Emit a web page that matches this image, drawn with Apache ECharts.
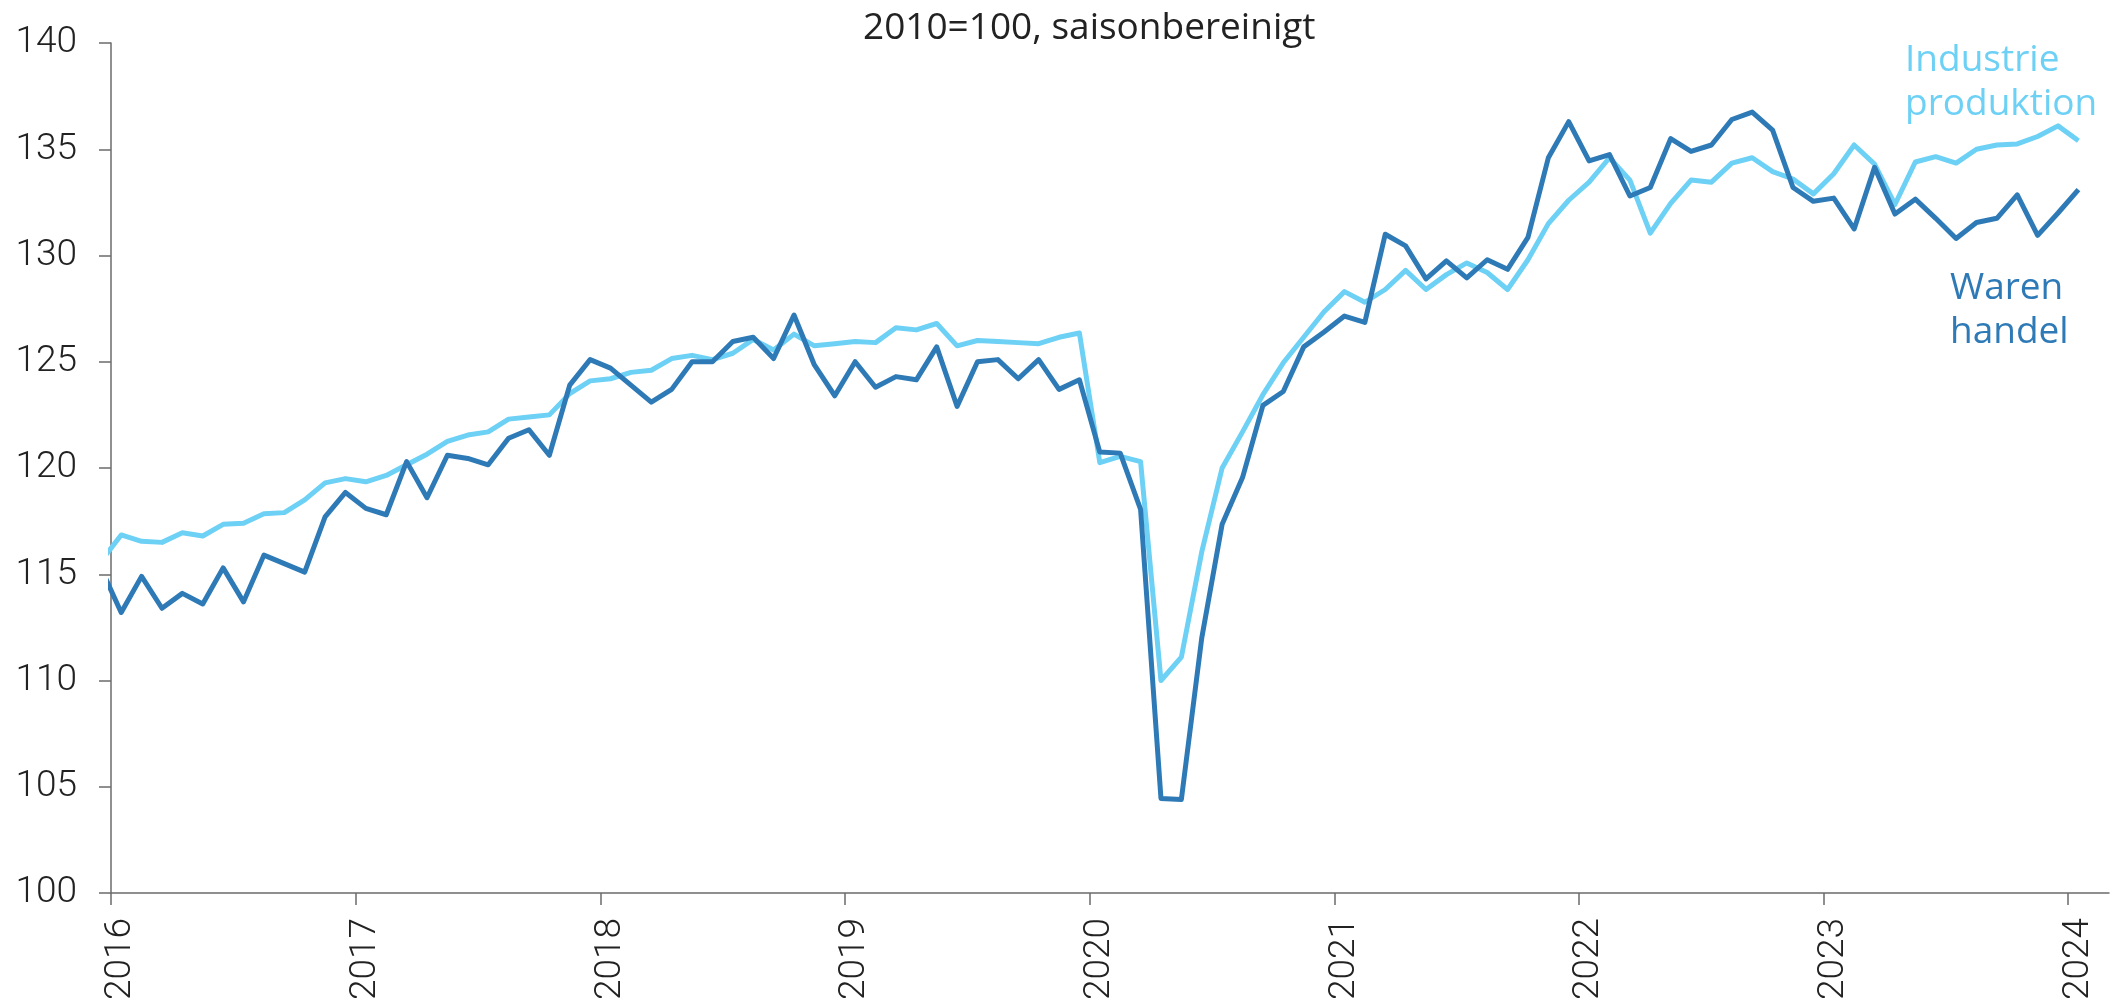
<!DOCTYPE html>
<html>
<head>
<meta charset="utf-8">
<script src="https://cdn.jsdelivr.net/npm/echarts@6/dist/echarts.min.js"></script>
<style>
  html, body { margin: 0; padding: 0; background: #fff; }
  #chart { width: 2121px; height: 1006px; }
</style>
</head>
<body>
<div id="chart"></div>
<script>
// Monatswerte Dez 2015 .. Jan 2024 (Dez 2015 liegt links außerhalb und wird abgeschnitten)
const yearLabels = ['2016', '2017', '2018', '2019', '2020', '2021', '2022', '2023', '2024'];
const monthNames = ['Jan', 'Feb', 'Mär', 'Apr', 'Mai', 'Jun', 'Jul', 'Aug', 'Sep', 'Okt', 'Nov', 'Dez'];
const months = ['Dez 2015'];
yearLabels.forEach(function (y) {
  monthNames.forEach(function (m) {
    if (months.length < 98) months.push(m + ' ' + y);
  });
});

const warenhandel = [
  115.3,
  113.2, 114.9, 113.4, 114.1, 113.6, 115.3, 113.7, 115.9, 115.5, 115.1, 117.7, 118.85,
  118.1, 117.8, 120.3, 118.6, 120.6, 120.45, 120.15, 121.4, 121.8, 120.6, 123.9, 125.1,
  124.7, 123.9, 123.1, 123.7, 125.0, 125.0, 125.95, 126.15, 125.15, 127.2, 124.85, 123.4,
  125.0, 123.8, 124.3, 124.15, 125.7, 122.9, 125.0, 125.1, 124.2, 125.1, 123.7, 124.15,
  120.75, 120.7, 118.05, 104.45, 104.4, 112.0, 117.35, 119.55, 122.95, 123.6, 125.7, 126.4,
  127.15, 126.85, 131.0, 130.45, 128.9, 129.75, 128.95, 129.8, 129.35, 130.85, 134.6, 136.3,
  134.45, 134.75, 132.8, 133.2, 135.5, 134.9, 135.2, 136.4, 136.75, 135.9, 133.2, 132.55,
  132.7, 131.25, 134.15, 131.95, 132.65, 131.75, 130.8, 131.55, 131.75, 132.85, 130.95, 132.0,
  133.1
];

const industrieproduktion = [
  115.6,
  116.85, 116.55, 116.5, 116.95, 116.8, 117.35, 117.4, 117.85, 117.9, 118.5, 119.3, 119.5,
  119.35, 119.65, 120.15, 120.65, 121.25, 121.55, 121.7, 122.3, 122.4, 122.5, 123.5, 124.1,
  124.2, 124.5, 124.6, 125.15, 125.3, 125.1, 125.4, 126.05, 125.55, 126.3, 125.75, 125.85,
  125.95, 125.9, 126.6, 126.5, 126.8, 125.75, 126.0, 125.95, 125.9, 125.85, 126.15, 126.35,
  120.25, 120.55, 120.3, 110.0, 111.1, 116.05, 120.0, 121.7, 123.45, 124.95, 126.15, 127.35,
  128.3, 127.8, 128.4, 129.3, 128.4, 129.1, 129.65, 129.2, 128.4, 129.8, 131.5, 132.6,
  133.45, 134.6, 133.55, 131.05, 132.45, 133.55, 133.45, 134.35, 134.6, 133.95, 133.6, 132.9,
  133.85, 135.2, 134.3, 132.4, 134.4, 134.65, 134.35, 135.0, 135.2, 135.25, 135.6, 136.1,
  135.4
];

const yTicks = [100, 105, 110, 115, 120, 125, 130, 135, 140];

// Monat k liegt in der Mitte seines Monatsintervalls
function toPoints(values) {
  return values.map(function (v, k) { return [k - 0.5, v]; });
}
const yearTicks = yearLabels.map(function (y, i) { return i * 12; });
const yearLabelPos = yearLabels.map(function (y, i) { return i * 12 + 0.5; });

const axisColor = '#6b6b6b';
const font = 'Roboto, "Liberation Sans", sans-serif';

const chart = echarts.init(document.getElementById('chart'));
chart.setOption({
  animation: false,
  backgroundColor: '#fff',
  title: {
    text: '2010=100, saisonbereinigt',
    left: 858,
    top: 5,
    textStyle: { fontFamily: '"Open Sans", sans-serif', fontSize: 37, fontWeight: 'normal', color: '#222' }
  },
  grid: { left: 111, right: 12, top: 43, bottom: 113 },
  xAxis: {
    type: 'value',
    min: 0,
    max: 98,
    axisLine: { show: true, lineStyle: { color: axisColor, width: 1.5 } },
    axisTick: { show: true, length: 12, customValues: yearTicks, lineStyle: { color: axisColor, width: 1.5 } },
    axisLabel: {
      customValues: yearLabelPos,
      rotate: 90,
      margin: 25,
      fontSize: 37,
      fontFamily: font,
      fontWeight: 300,
      color: '#222',
      formatter: function (v) { return yearLabels[Math.round((v - 0.5) / 12)]; }
    },
    splitLine: { show: false }
  },
  yAxis: {
    type: 'value',
    min: yTicks[0],
    max: yTicks[yTicks.length - 1],
    interval: 5,
    axisLine: { show: true, lineStyle: { color: axisColor, width: 1.5 } },
    axisTick: { show: true, length: 12, lineStyle: { color: axisColor, width: 1.5 } },
    axisLabel: { margin: 34, fontSize: 37, fontFamily: font, fontWeight: 300, color: '#222' },
    splitLine: { show: false }
  },
  series: [
    {
      name: 'Industrieproduktion',
      type: 'line',
      data: toPoints(industrieproduktion),
      symbol: 'none',
      clip: true,
      lineStyle: { color: '#6dd0f5', width: 5, join: 'round' },
      z: 2
    },
    {
      name: 'Warenhandel',
      type: 'line',
      data: toPoints(warenhandel),
      symbol: 'none',
      clip: true,
      lineStyle: { color: '#2e7ab6', width: 5, join: 'round' },
      z: 3
    }
  ],
  graphic: [
    {
      type: 'text',
      left: 1905,
      top: 38,
      style: {
        text: 'Industrie\nproduktion',
        fontFamily: '"Open Sans", sans-serif',
        fontSize: 37,
        lineHeight: 44,
        fill: '#6dd0f5'
      }
    },
    {
      type: 'text',
      left: 1950,
      top: 266,
      style: {
        text: 'Waren\nhandel',
        fontFamily: '"Open Sans", sans-serif',
        fontSize: 37,
        lineHeight: 44,
        fill: '#2e7ab6'
      }
    }
  ]
});
</script>
</body>
</html>
